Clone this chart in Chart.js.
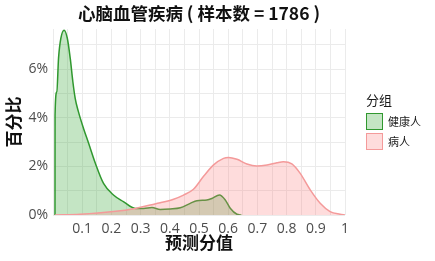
<!DOCTYPE html>
<html>
<head>
<meta charset="utf-8">
<script src="https://cdn.jsdelivr.net/npm/chart.js@4"></script>
<style>
html,body{margin:0;padding:0;background:#fff;}
#wrap{position:relative;width:435px;height:261px;}
#legend{position:absolute;left:366px;top:91px;font-family:"Noto Sans CJK SC",sans-serif;color:#1a1a1a;}
#legend .t{font-size:13px;line-height:18px;margin-bottom:2px;}
#legend .row{display:flex;align-items:center;height:20px;}
#legend .box{width:17px;height:17px;box-sizing:border-box;margin-right:5px;}
#legend .lab{font-size:11px;}
</style>
</head>
<body>
<div id="wrap">
<canvas id="c" width="435" height="261"></canvas>
<div id="legend"></div>
</div>
<script>
const titleText = "心脑血管疾病 ( 样本数 = 1786 )";
const xTitle = "预测分值";
const yTitle = "百分比";
const legendTitle = "分组";
const seriesNames = ["健康人", "病人"];

const healthyX = [0.0068,0.007,0.013,0.019,0.027,0.038,0.049,0.059,0.068,0.076,0.087,0.104,0.122,0.145,0.173,0.207,0.241,0.282,0.31,0.339,0.367,0.401,0.436,0.47,0.493,0.527,0.544,0.570,0.59,0.607,0.63,0.645];
const healthyY = [0,4.1,5.07,6.45,7.27,7.6,7.27,6.45,5.48,4.8,4.25,3.58,2.95,2.13,1.3,0.82,0.55,0.27,0.27,0.31,0.23,0.25,0.30,0.48,0.59,0.62,0.68,0.82,0.62,0.28,0.03,0];

const sickX = [0.007,0.093,0.207,0.282,0.333,0.367,0.413,0.447,0.481,0.515,0.55,0.584,0.601,0.63,0.664,0.698,0.733,0.767,0.789,0.818,0.846,0.881,0.915,0.949,0.983,1.0];
const sickY = [0.0,0.03,0.14,0.27,0.41,0.5,0.65,0.82,1.06,1.58,2.06,2.33,2.37,2.29,2.1,2.02,2.06,2.15,2.19,2.1,1.72,1.03,0.48,0.14,0.03,0];

const lineColors = ["#30982f", "#f49a9a"];
const fillColors = ["rgba(60,170,60,0.30)", "rgba(250,128,128,0.28)"];

function pts(xs, ys){ return xs.map((x,i)=>({x:x,y:ys[i]})); }

const FONT = '"Noto Sans CJK SC", sans-serif';
const TICKFONT = '"Open Sans", "Noto Sans CJK SC", sans-serif';

new Chart(document.getElementById('c'), {
  type: 'line',
  data: {
    datasets: [
      {label: seriesNames[0], data: pts(healthyX, healthyY), borderColor: lineColors[0], backgroundColor: fillColors[0], fill: 'origin', borderWidth: 1.5, pointRadius: 0, cubicInterpolationMode: 'monotone', order: 2},
      {label: seriesNames[1], data: pts(sickX, sickY), borderColor: lineColors[1], backgroundColor: fillColors[1], fill: 'origin', borderWidth: 1.5, pointRadius: 0, cubicInterpolationMode: 'monotone', order: 1}
    ]
  },
  options: {
    responsive: false,
    animation: false,
    layout: {padding: {left: 0, right: 90, top: 0, bottom: 0}},
    plugins: {
      legend: {display: false},
      tooltip: {enabled: false},
      title: {display: true, text: titleText, fullSize: false, color: '#111', font: {family: FONT, size: 17.5, weight: 'bold'}, padding: {top: 3, bottom: 5}}
    },
    scales: {
      x: {
        type: 'linear', min: 0, max: 1,
        border: {display: false},
        grid: {color: '#ebebeb', lineWidth: 1, drawTicks: false},
        ticks: {stepSize: 0.05, includeBounds: false, autoSkip: false, maxRotation: 0, padding: 6, color: '#4d4d4d', font: {family: TICKFONT, size: 14},
          callback: function(v){ const r = Math.round(v*100); if (r === 0 || r % 10 !== 0) return ''; return String(r/100); }},
        title: {display: true, text: xTitle, color: '#111', font: {family: FONT, size: 17, weight: 'bold'}, padding: {top: 0, bottom: 8}},
        afterFit: function(s){ s.height = 46; }
      },
      y: {
        type: 'linear', min: 0, max: 7.65,
        border: {display: false},
        grid: {color: '#ebebeb', lineWidth: 1, drawTicks: false},
        ticks: {stepSize: 1, includeBounds: false, padding: 5, color: '#4d4d4d', font: {family: TICKFONT, size: 14},
          callback: function(v){ const r = Math.round(v); return (r % 2 === 0) ? r + '%' : ''; }},
        title: {display: true, text: yTitle, color: '#111', font: {family: FONT, size: 17, weight: 'bold'}, padding: {top: 3, bottom: 4}},
        afterFit: function(s){ s.width = 53; }
      }
    }
  }
});

const lg = document.getElementById('legend');
let html = '<div class="t">' + legendTitle + '</div>';
seriesNames.forEach((n,i)=>{
  html += '<div class="row"><div class="box" style="background:' + fillColors[i] + ';border:1.5px solid ' + lineColors[i] + '"></div><span class="lab">' + n + '</span></div>';
});
lg.innerHTML = html;
</script>
</body>
</html>
